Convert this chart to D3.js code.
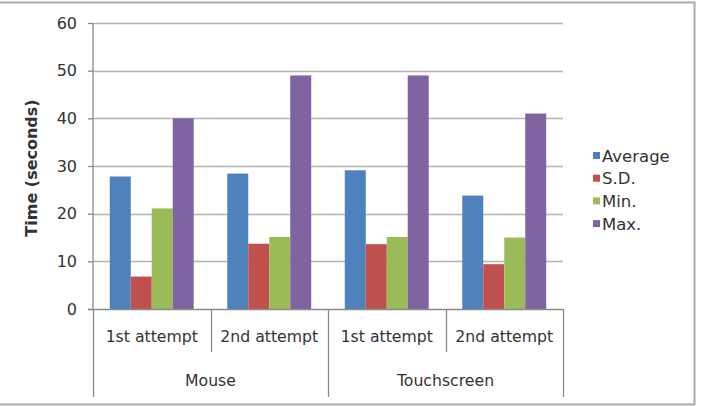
<!DOCTYPE html>
<html>
<head>
<meta charset="utf-8">
<script src="https://cdn.jsdelivr.net/npm/d3@7"></script>
<style>
  body { margin: 0; background: #fff; }
  text { font-family: "DejaVu Sans", Arial, sans-serif; fill: #333; }
</style>
</head>
<body>
<div id="chart"></div>
<script>
// chart data
var groups = ["Mouse", "Touchscreen"];
var attempts = ["1st attempt", "2nd attempt"];
var series = ["Average", "S.D.", "Min.", "Max."];
var average = [27.8, 28.4, 29.1, 23.8];
var sd = [6.8, 13.7, 13.6, 9.4];
var minVals = [21.1, 15.1, 15.1, 15];
var maxVals = [40, 49, 49, 41];
var yTicks = [0, 10, 20, 30, 40, 50, 60];

var colors = ["#4f81bd", "#c0504d", "#9bbb59", "#8064a2"];
var values = [average, sd, minVals, maxVals];

// one row per category (group x attempt)
var cats = [];
groups.forEach(function (g) {
    attempts.forEach(function (a) { cats.push({ group: g, attempt: a, key: g + "|" + a }); });
});
var rows = cats.map(function (c, i) {
    return { key: c.key, vals: series.map(function (s, j) { return { name: s, value: values[j][i], color: colors[j] }; }) };
});

var width = 702, height = 406;
var plotLeft = 93, plotRight = 563, plotTop = 23, plotBottom = 309;

var svg = d3.select("#chart").append("svg")
    .attr("width", width)
    .attr("height", height);

// outer frame
svg.append("path")
    .attr("d", "M0,2.5H694.5V404.5H0")
    .attr("fill", "none")
    .attr("stroke", "#a9a9a9")
    .attr("stroke-width", 2);

var y = d3.scaleLinear().domain([0, 60]).range([plotBottom, plotTop]);
var x0 = d3.scaleBand().domain(cats.map(function (c) { return c.key; })).range([plotLeft, plotRight]);
var x1 = d3.scaleBand().domain(series).range([0, x0.bandwidth()]).paddingOuter(0.8);

// gridlines
svg.append("g").selectAll("line")
    .data(yTicks.slice(1))
    .enter().append("line")
    .attr("x1", plotLeft).attr("x2", plotRight)
    .attr("y1", function (d) { return Math.round(y(d)) + 0.5; })
    .attr("y2", function (d) { return Math.round(y(d)) + 0.5; })
    .attr("stroke", "#b4b4b4")
    .attr("stroke-width", 1.3);

// y axis
var yAxis = svg.append("g")
    .attr("transform", "translate(" + plotLeft + ",0)")
    .call(d3.axisLeft(y).tickValues(yTicks).tickSize(5).tickPadding(11));
yAxis.selectAll("line,path").attr("stroke", "#8a8a8a").attr("stroke-width", 1.3);
yAxis.select(".domain").attr("d", "M0," + plotTop + "V" + plotBottom);
yAxis.selectAll("text").style("font-size", "16px").attr("fill", "#333").attr("font-family", "DejaVu Sans");

svg.append("text")
    .attr("transform", "translate(37,168) rotate(-90)")
    .attr("text-anchor", "middle")
    .style("font-size", "16px")
    .style("font-weight", "bold")
    .text("Time (seconds)");

// bars
var cat = svg.append("g").selectAll("g")
    .data(rows)
    .enter().append("g")
    .attr("transform", function (d) { return "translate(" + x0(d.key) + ",0)"; });

cat.selectAll("rect")
    .data(function (d) { return d.vals; })
    .enter().append("rect")
    .attr("x", function (d) { return x1(d.name); })
    .attr("width", x1.bandwidth())
    .attr("y", function (d) { return y(d.value); })
    .attr("height", function (d) { return y(0) - y(d.value); })
    .attr("fill", function (d) { return d.color; });

// x axis line
svg.append("line")
    .attr("x1", plotLeft - 5).attr("x2", plotRight)
    .attr("y1", plotBottom + 0.5).attr("y2", plotBottom + 0.5)
    .attr("stroke", "#8a8a8a").attr("stroke-width", 1.3);

// category dividers
var axisG = svg.append("g");
cats.forEach(function (c, i) {
    var xs = x0(c.key);
    var isGroupEdge = (i % attempts.length === 0);
    axisG.append("line")
        .attr("x1", Math.round(xs) + 0.5).attr("x2", Math.round(xs) + 0.5)
        .attr("y1", plotBottom).attr("y2", isGroupEdge ? 397 : 352)
        .attr("stroke", "#8a8a8a").attr("stroke-width", 1.3);
    axisG.append("text")
        .attr("x", xs + x0.bandwidth() / 2)
        .attr("y", 342)
        .attr("text-anchor", "middle")
        .style("font-size", "15.7px")
        .text(c.attempt);
});
axisG.append("line")
    .attr("x1", plotRight + 0.5).attr("x2", plotRight + 0.5)
    .attr("y1", plotBottom).attr("y2", 397)
    .attr("stroke", "#8a8a8a").attr("stroke-width", 1.3);

groups.forEach(function (g) {
    var ks = cats.filter(function (c) { return c.group === g; });
    var a = x0(ks[0].key), b = x0(ks[ks.length - 1].key) + x0.bandwidth();
    axisG.append("text")
        .attr("x", (a + b) / 2)
        .attr("y", 386)
        .attr("text-anchor", "middle")
        .style("font-size", "15.7px")
        .text(g);
});

// legend
var legend = svg.append("g").selectAll("g")
    .data(series)
    .enter().append("g")
    .attr("transform", function (d, i) { return "translate(593," + (156 + i * 22.7) + ")"; });

legend.append("rect")
    .attr("x", 0).attr("y", -4)
    .attr("width", 7).attr("height", 7)
    .attr("fill", function (d, i) { return colors[i]; });

legend.append("text")
    .attr("x", 9)
    .attr("dy", "0.35em")
    .style("font-size", "16.5px")
    .text(function (d) { return d; });
</script>
</body>
</html>
